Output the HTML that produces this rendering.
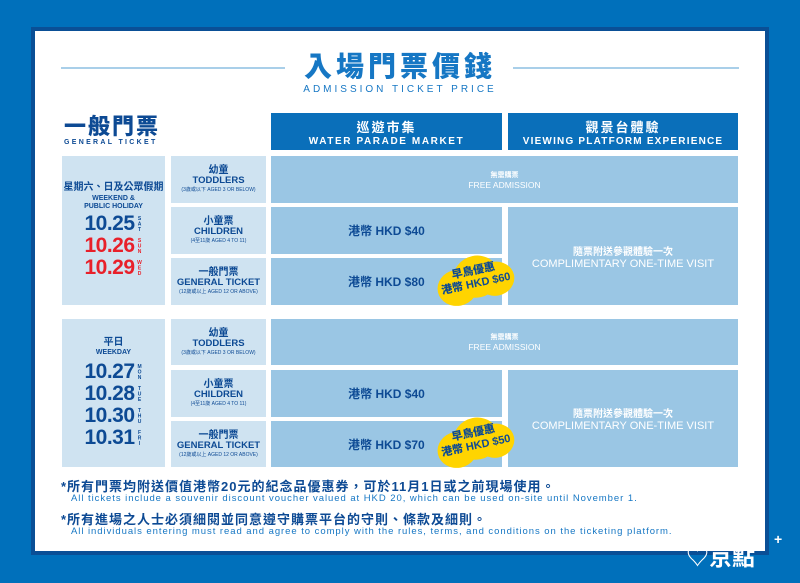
<!DOCTYPE html>
<html><head><meta charset="utf-8"><style>
*{margin:0;padding:0;box-sizing:border-box}
body{width:800px;height:583px;background:#0070bb;position:relative;overflow:hidden;font-family:"Liberation Sans","Noto Sans CJK TC",sans-serif;}
.a{position:absolute}
.c{display:flex;flex-direction:column;align-items:center;justify-content:center;text-align:center;color:#0d4a94;font-weight:bold}
.l{background:#cfe3f1}
.m{background:#9ac6e4}
.h{background:#0a6fba;color:#fff}
.zh{font-size:10px;line-height:11px}
.en{font-size:9.5px;line-height:10px}
.sm{font-size:5px;line-height:8px;font-weight:normal}
.date{font-size:21px;line-height:22px;font-weight:900;letter-spacing:-0.5px;display:flex;align-items:center}
.date span{font-size:5px;line-height:5px;width:6px;margin-left:2px;word-break:break-all;writing-mode:vertical-lr;text-orientation:upright}
.price{font-size:12px;color:#0d4a94;font-weight:bold}
.badge{position:absolute;width:78px;height:46px;color:#0d4a94;font-weight:bold;font-size:11px;line-height:13px;text-align:center;transform:rotate(-12deg)}
.badge i{position:absolute;background:#ffd400;border-radius:50%}
.badge b{position:relative;display:block}
</style></head><body>
<div class="a" style="left:31px;top:27px;width:738px;height:528px;background:#0a4f96"></div>
<div class="a" style="left:35px;top:31px;width:730px;height:520px;background:#fff"></div>
<div class="a" style="left:61px;top:67px;width:224px;height:2px;background:#a9cfe9"></div>
<div class="a" style="left:513px;top:67px;width:226px;height:2px;background:#a9cfe9"></div>
<div class="a" style="left:296px;top:50px;width:208px;text-align:center;font-size:28px;line-height:34px;font-weight:900;color:#1677c4;letter-spacing:4px">入場門票價錢</div>
<div class="a" style="left:296px;top:84px;width:208px;text-align:center;font-size:10px;color:#1677c4;letter-spacing:3px">ADMISSION TICKET PRICE</div>
<div class="a" style="left:64px;top:114px;font-size:22px;line-height:26px;font-weight:900;color:#0d4a94;letter-spacing:2px">一般門票</div>
<div class="a" style="left:64px;top:139px;font-size:7px;color:#0d4a94;letter-spacing:2.3px;font-weight:bold">GENERAL TICKET</div>
<div class="a c h" style="left:271px;top:113px;width:231px;height:37px"><div style="font-size:13px;letter-spacing:2px;color:#fff">巡遊市集</div><div style="font-size:10px;letter-spacing:1.6px;color:#fff">WATER PARADE MARKET</div></div>
<div class="a c h" style="left:508px;top:113px;width:230px;height:37px"><div style="font-size:13px;letter-spacing:2px;color:#fff">觀景台體驗</div><div style="font-size:10px;letter-spacing:1.2px;color:#fff">VIEWING PLATFORM EXPERIENCE</div></div>

<div class="a c l" style="left:62px;top:156px;width:103px;height:149px">
<div class="zh">星期六、日及公眾假期</div>
<div class="en" style="font-size:7px;line-height:8px;margin-top:2px">WEEKEND &amp;<br>PUBLIC HOLIDAY</div>
<div class="date" style="margin-top:2px">10.25<span>SAT</span></div>
<div class="date" style="color:#e8202a">10.26<span>SUN</span></div>
<div class="date" style="color:#e8202a">10.29<span>WED</span></div>
</div>
<div class="a c l" style="left:62px;top:319px;width:103px;height:148px">
<div class="zh">平日</div>
<div class="en" style="font-size:7px">WEEKDAY</div>
<div class="date" style="margin-top:3px">10.27<span>MON</span></div>
<div class="date">10.28<span>TUE</span></div>
<div class="date">10.30<span>THU</span></div>
<div class="date">10.31<span>FRI</span></div>
</div>

<div class="a c l" style="left:171px;top:156px;width:95px;height:47px"><div class="zh">幼童</div><div class="en">TODDLERS</div><div class="sm">(3歲或以下 AGED 3 OR BELOW)</div></div>
<div class="a c l" style="left:171px;top:207px;width:95px;height:47px"><div class="zh">小童票</div><div class="en">CHILDREN</div><div class="sm">(4至11歲 AGED 4 TO 11)</div></div>
<div class="a c l" style="left:171px;top:258px;width:95px;height:47px"><div class="zh">一般門票</div><div class="en">GENERAL TICKET</div><div class="sm">(12歲或以上 AGED 12 OR ABOVE)</div></div>
<div class="a c l" style="left:171px;top:319px;width:95px;height:46px"><div class="zh">幼童</div><div class="en">TODDLERS</div><div class="sm">(3歲或以下 AGED 3 OR BELOW)</div></div>
<div class="a c l" style="left:171px;top:370px;width:95px;height:47px"><div class="zh">小童票</div><div class="en">CHILDREN</div><div class="sm">(4至11歲 AGED 4 TO 11)</div></div>
<div class="a c l" style="left:171px;top:421px;width:95px;height:46px"><div class="zh">一般門票</div><div class="en">GENERAL TICKET</div><div class="sm">(12歲或以上 AGED 12 OR ABOVE)</div></div>

<div class="a c m" style="left:271px;top:156px;width:467px;height:47px;color:#fff"><div style="font-size:7px">無需購票</div><div style="font-size:8.5px;font-weight:normal">FREE ADMISSION</div></div>
<div class="a c m" style="left:271px;top:207px;width:231px;height:47px"><div class="price">港幣 HKD $40</div></div>
<div class="a c m" style="left:271px;top:258px;width:231px;height:47px;align-items:flex-start;padding-left:77px"><div class="price">港幣 HKD $80</div></div>
<div class="a c m" style="left:508px;top:207px;width:230px;height:98px;color:#fff"><div style="font-size:10px">隨票附送參觀體驗一次</div><div style="font-size:11px;font-weight:normal">COMPLIMENTARY ONE-TIME VISIT</div></div>

<div class="a c m" style="left:271px;top:319px;width:467px;height:46px;color:#fff"><div style="font-size:7px">無需購票</div><div style="font-size:8.5px;font-weight:normal">FREE ADMISSION</div></div>
<div class="a c m" style="left:271px;top:370px;width:231px;height:47px"><div class="price">港幣 HKD $40</div></div>
<div class="a c m" style="left:271px;top:421px;width:231px;height:46px;align-items:flex-start;padding-left:77px"><div class="price">港幣 HKD $70</div></div>
<div class="a c m" style="left:508px;top:370px;width:230px;height:97px;color:#fff"><div style="font-size:10px">隨票附送參觀體驗一次</div><div style="font-size:11px;font-weight:normal">COMPLIMENTARY ONE-TIME VISIT</div></div>

<div class="badge" style="left:436px;top:256px"><i style="left:0;top:10px;width:40px;height:36px"></i><i style="left:18px;top:0;width:46px;height:42px"></i><i style="left:40px;top:10px;width:38px;height:34px"></i><b style="padding-top:9px">早鳥優惠<br>港幣 HKD $60</b></div>
<div class="badge" style="left:436px;top:418px"><i style="left:0;top:10px;width:40px;height:36px"></i><i style="left:18px;top:0;width:46px;height:42px"></i><i style="left:40px;top:10px;width:38px;height:34px"></i><b style="padding-top:9px">早鳥優惠<br>港幣 HKD $50</b></div>

<div class="a" style="left:61px;top:476px;font-size:13px;font-weight:bold;color:#0d4a94;letter-spacing:1px;white-space:nowrap">*所有門票均附送價值港幣20元的紀念品優惠券，可於11月1日或之前現場使用。</div>
<div class="a" style="left:71px;top:493px;font-size:9.5px;color:#1677c4;letter-spacing:0.95px;white-space:nowrap">All tickets include a souvenir discount voucher valued at HKD 20, which can be used on-site until November 1.</div>
<div class="a" style="left:61px;top:509px;font-size:13px;font-weight:bold;color:#0d4a94;letter-spacing:1px;white-space:nowrap">*所有進場之人士必須細閱並同意遵守購票平台的守則、條款及細則。</div>
<div class="a" style="left:71px;top:526px;font-size:9.5px;color:#1677c4;letter-spacing:0.95px;white-space:nowrap">All individuals entering must read and agree to comply with the rules, terms, and conditions on the ticketing platform.</div>
<div class="a" style="left:686px;top:543px;font-size:23px;line-height:28px;color:#fff;font-weight:bold">♡京點</div>
<div class="a" style="left:774px;top:531px;font-size:14px;color:#fff;font-weight:bold">+</div>
</body></html>
